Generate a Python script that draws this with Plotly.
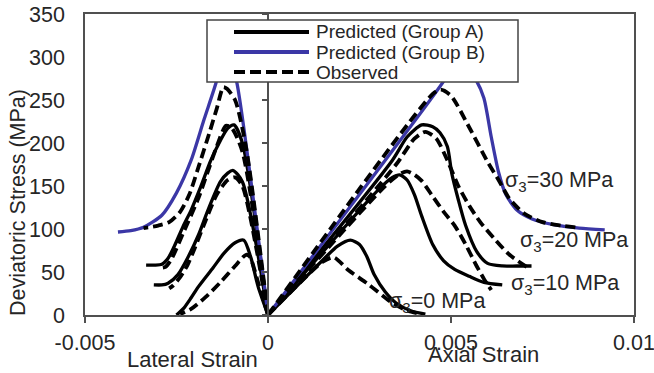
import plotly.graph_objects as go

# ---------------- data ----------------
# Predicted Group A (black solid) - lateral (negative) and axial (positive) strain
a0_lat_x = [0, -0.00027, -0.00047, -0.00066, -0.0009, -0.0012, -0.0015, -0.0019, -0.0021, -0.0023, -0.0025]
a0_lat_y = [0, 33, 67, 87, 84, 72, 55, 33, 20, 8, 0]
a0_ax_x = [0, 0.0015, 0.0019, 0.00225, 0.0025, 0.0027, 0.0029, 0.0032, 0.0035, 0.0039, 0.0043]
a0_ax_y = [0, 64, 80, 87, 82, 68, 47, 27, 14, 5, 1]

a10_lat_x = [0, -0.0007, -0.00095, -0.0011, -0.0013, -0.00164, -0.0019, -0.0022, -0.00246, -0.00273, -0.0029, -0.00312]
a10_lat_y = [0, 155, 168, 165, 155, 122, 93, 66, 47, 37, 35, 35]
a10_ax_x = [0, 0.0030, 0.0034, 0.0036, 0.0038, 0.0040, 0.0042, 0.0045, 0.0048, 0.0051, 0.0055, 0.0059, 0.0064]
a10_ax_y = [0, 145, 160, 163, 157, 140, 115, 82, 63, 53, 45, 38, 35]

a20_lat_x = [0, -0.0007, -0.00093, -0.0011, -0.0013, -0.00156, -0.00184, -0.0021, -0.00232, -0.00257, -0.00273, -0.0029, -0.0031, -0.00333]
a20_lat_y = [0, 200, 221, 217, 203, 180, 149, 122, 103, 79, 66, 59, 58, 58]
a20_ax_x = [0, 0.0034, 0.0038, 0.0042, 0.0045, 0.0047, 0.0049, 0.00502, 0.0052, 0.0054, 0.0057, 0.0060, 0.0064, 0.0068, 0.0072]
a20_ax_y = [0, 180, 207, 221, 219, 212, 196, 165, 134, 104, 74, 60, 57, 57, 57]

# Predicted Group B (blue solid), sigma3 = 30 MPa
b30_lat_x = [0, -0.00085, -0.0010, -0.00115, -0.0013, -0.00142, -0.00175, -0.0021, -0.0025, -0.0029, -0.0034, -0.00375, -0.0041]
b30_lat_y = [0, 270, 292, 298, 292, 270, 227, 180, 142, 116, 102, 98, 96.5]
b30_ax_x = [0, 0.0048, 0.0050, 0.0052, 0.0055, 0.0057, 0.0059, 0.0061, 0.0063, 0.0065, 0.0068, 0.0072, 0.0078, 0.0085, 0.0092]
b30_ax_y = [0, 272, 287, 294, 283, 272, 252, 207, 166, 140, 122, 112, 105, 101, 99]

# Observed (black dashed)
o0_lat_x = [0, -0.00025, -0.0005, -0.0006, -0.0009, -0.0013, -0.0017, -0.0021, -0.0024]
o0_lat_y = [0, 35, 68, 70, 57, 38, 21, 7, 1]
o0_ax_x = [0, 0.0015, 0.0018, 0.0022, 0.0027, 0.0030, 0.0034, 0.0038, 0.0042]
o0_ax_y = [0, 62, 67, 52, 37, 27, 14, 5, 1]

o10_lat_x = [0, -0.0007, -0.0009, -0.0011, -0.0014, -0.00175, -0.002, -0.0022, -0.0024, -0.0026, -0.0027]
o10_lat_y = [0, 150, 160, 157, 140, 105, 78, 58, 44, 34, 31]
o10_ax_x = [0, 0.0032, 0.0036, 0.0038, 0.0040, 0.0042, 0.0045, 0.0048, 0.0051, 0.0054, 0.0057, 0.0059, 0.0061]
o10_ax_y = [0, 150, 164, 167, 163, 156, 138, 120, 104, 82, 57, 42, 29]

o20_lat_x = [0, -0.0007, -0.001, -0.00115, -0.0014, -0.0017, -0.0019, -0.0023, -0.00265, -0.0028, -0.0029]
o20_lat_y = [0, 190, 218, 220, 196, 160, 136, 97, 64, 56, 55]
o20_ax_x = [0, 0.0035, 0.0040, 0.0043, 0.0046, 0.0049, 0.0052, 0.0055, 0.0058, 0.0062, 0.0066, 0.0071]
o20_ax_y = [0, 175, 205, 213, 205, 180, 150, 127, 108, 88, 70, 55]

o30_lat_x = [0, -0.0006, -0.0009, -0.00112, -0.00122, -0.0014, -0.0016, -0.0019, -0.00215, -0.0024, -0.0027, -0.0030, -0.0034]
o30_lat_y = [0, 195, 250, 263, 265, 240, 212, 172, 140, 120, 108, 104, 101]
o30_ax_x = [0, 0.0045, 0.00472, 0.0050, 0.0055, 0.0060, 0.0063, 0.0066, 0.0070, 0.0075, 0.0080, 0.0084]
o30_ax_y = [0, 257, 262, 255, 218, 178, 157, 135, 118, 108, 104, 102]

x_ticks = [-0.005, 0, 0.005, 0.01]
x_tick_labels = ["-0.005", "0", "0.005", "0.01"]
y_ticks = [0, 50, 100, 150, 200, 250, 300, 350]

legend_labels = ["Predicted (Group A)", "Predicted (Group B)", "Observed"]
curve_labels = ["σ<sub>3</sub>=30 MPa", "σ<sub>3</sub>=20 MPa", "σ<sub>3</sub>=10 MPa", "σ<sub>3</sub>=0 MPa"]
curve_label_x = [0.00642, 0.00683, 0.00658, 0.00326]
curve_label_y = [155, 85, 35, 15]

# ---------------- styling ----------------
FONT = "Arial, 'Liberation Sans', sans-serif"
TXT = "#262626"
AX = "#505050"
BLACK = "#000000"
BLUE = "#3b37a6"
DASH = "10px,5px"

fig = go.Figure()

def add(x, y, color, width, dash=None):
    fig.add_trace(go.Scatter(
        x=x, y=y, mode="lines", showlegend=False, hoverinfo="skip",
        line=dict(color=color, width=width, dash=dash, shape="spline", smoothing=0.7)))

# solid group A first
for xs, ys in [(a0_lat_x, a0_lat_y), (a0_ax_x, a0_ax_y), (a10_lat_x, a10_lat_y), (a10_ax_x, a10_ax_y),
               (a20_lat_x, a20_lat_y), (a20_ax_x, a20_ax_y)]:
    add(xs, ys, BLACK, 3.3)
# group B
add(b30_lat_x, b30_lat_y, BLUE, 3.3)
add(b30_ax_x, b30_ax_y, BLUE, 3.3)
# observed dashed
for xs, ys in [(o0_lat_x, o0_lat_y), (o0_ax_x, o0_ax_y), (o10_lat_x, o10_lat_y), (o10_ax_x, o10_ax_y),
               (o20_lat_x, o20_lat_y), (o20_ax_x, o20_ax_y), (o30_lat_x, o30_lat_y), (o30_ax_x, o30_ax_y)]:
    add(xs, ys, BLACK, 3.8, DASH)

# dummy trace for the axis drawn at x = 0
fig.add_trace(go.Scatter(x=[None], y=[None], yaxis="y2", showlegend=False, hoverinfo="skip"))

W, H = 654, 373
ml, mr, mt, mb = 85, 20, 14, 58
pw, ph = W - ml - mr, H - mt - mb

def px_x(p):
    return (p - ml) / pw

def px_y(p):
    return (H - mb - p) / ph

x_range = [-0.005, 0.01]
zero_pos = (0 - x_range[0]) / (x_range[1] - x_range[0])

fig.update_layout(
    width=W, height=H, margin=dict(l=ml, r=mr, t=mt, b=mb),
    paper_bgcolor="white", plot_bgcolor="white",
    font=dict(family=FONT, color=TXT, size=20),
    xaxis=dict(range=x_range, tickvals=x_ticks, ticktext=x_tick_labels, ticks="outside", ticklen=6,
               tickcolor=AX, tickwidth=1.5, showgrid=False, zeroline=False, showline=True, mirror=True,
               linecolor=AX, linewidth=1.5, automargin=False, tickfont=dict(size=21.5, color=TXT),
               ticklabelstandoff=1, ticklabeloverflow="allow"),
    yaxis=dict(range=[0, 350], tickvals=y_ticks, ticks="", showgrid=False, zeroline=False, showline=True,
               mirror=True, linecolor=AX, linewidth=1.5, automargin=False,
               tickfont=dict(size=21.5, color=TXT), ticklabelstandoff=14, ticklabeloverflow="allow"),
    yaxis2=dict(overlaying="y", anchor="free", position=zero_pos, range=[0, 350], tickvals=y_ticks,
                showticklabels=False, ticks="outside", ticklen=5, tickcolor=AX, tickwidth=1.5,
                showgrid=False, zeroline=False, showline=True, linecolor=AX, linewidth=1.5),
)

annotations = []
# axis titles
annotations.append(dict(text="Deviatoric Stress (MPa)", xref="paper", yref="paper", x=px_x(18), y=px_y(203),
                        textangle=-90, showarrow=False, font=dict(size=21.5, color=TXT),
                        xanchor="center", yanchor="middle"))
annotations.append(dict(text="Lateral Strain", xref="x", yref="paper", x=-0.00205, y=px_y(359),
                        showarrow=False, font=dict(size=22, color=TXT), xanchor="center", yanchor="middle"))
annotations.append(dict(text="Axial Strain", xref="x", yref="paper", x=0.00588, y=px_y(354),
                        showarrow=False, font=dict(size=22, color=TXT), xanchor="center", yanchor="middle"))
# curve labels
for t, xx, yy in zip(curve_labels, curve_label_x, curve_label_y):
    annotations.append(dict(text=t, x=xx, y=yy, xref="x", yref="y", showarrow=False,
                            font=dict(size=21.5, color=TXT), xanchor="left", yanchor="middle"))

# custom legend
shapes = [dict(type="rect", xref="paper", yref="paper", x0=px_x(207), x1=px_x(518), y0=px_y(82), y1=px_y(20),
               line=dict(color="#444444", width=1.5), fillcolor="white", layer="above")]
leg_rows = [32, 52, 72]
leg_styles = [(BLACK, 4.2, None), (BLUE, 3.8, None), (BLACK, 4.2, "11px,5px")]
for lab, row, (c, w, d) in zip(legend_labels, leg_rows, leg_styles):
    shapes.append(dict(type="line", xref="paper", yref="paper", x0=px_x(234), x1=px_x(309),
                       y0=px_y(row), y1=px_y(row), line=dict(color=c, width=w, dash=d), layer="above"))
    annotations.append(dict(text=lab, xref="paper", yref="paper", x=px_x(314), y=px_y(row), showarrow=False,
                            font=dict(size=19, color=TXT), xanchor="left", yanchor="middle"))

fig.update_layout(shapes=shapes, annotations=annotations)
fig.write_html("out.html")
